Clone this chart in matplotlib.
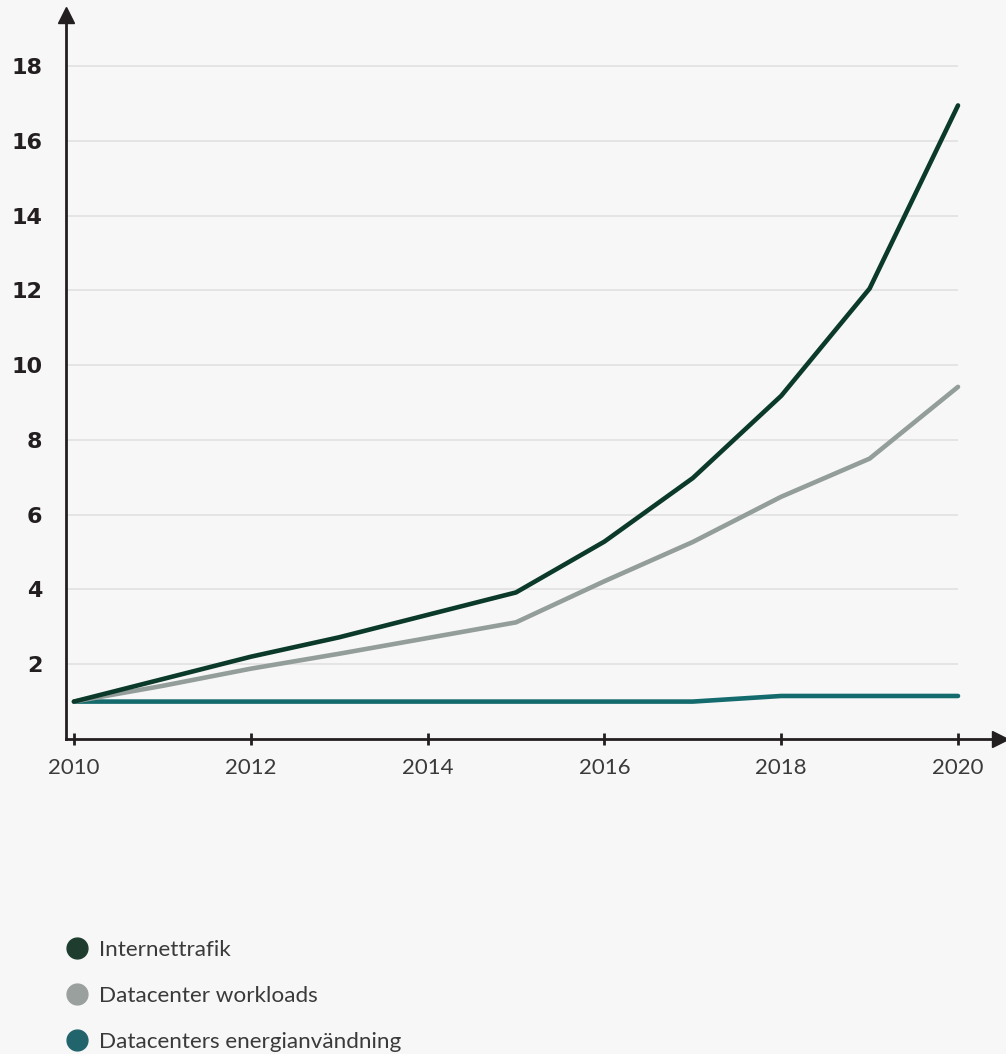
import matplotlib.pyplot as plt
from matplotlib.lines import Line2D

years = [2010, 2011, 2012, 2013, 2014, 2015, 2016, 2017, 2018, 2019, 2020]
internet = [1.0, 1.6, 2.2, 2.72, 3.32, 3.92, 5.28, 6.98, 9.18, 12.05, 16.95]
workloads = [1.0, 1.42, 1.88, 2.28, 2.7, 3.12, 4.22, 5.27, 6.48, 7.5, 9.42]
energy = [1.0, 1.0, 1.0, 1.0, 1.0, 1.0, 1.0, 1.0, 1.15, 1.15, 1.15]

series_names = ['Internettrafik', 'Datacenter workloads', 'Datacenters energianvändning']
line_colors = ['#0b3a2a', '#939d99', '#146b6e']
dot_colors = ['#1e3d2e', '#9aa09d', '#22646c']

x_ticks = [2010, 2012, 2014, 2016, 2018, 2020]
y_ticks = [2, 4, 6, 8, 10, 12, 14, 16, 18]

bg = '#f7f7f7'
axis_col = '#231f20'

fig = plt.figure(figsize=(10.06, 10.54), dpi=100, facecolor=bg)
ax = fig.add_axes([0.0656, 0.2989, 0.928, 0.6869], facecolor=bg)

x0, x1 = 2009.91, 2020.47
ax.set_xlim(x0, x1)
ax.set_ylim(0, 19.37)

ax.hlines(y_ticks, x0, 2020, colors='#e2e2e2', linewidth=1.3, zorder=1)

for vals, c in zip([energy, workloads, internet], [line_colors[2], line_colors[1], line_colors[0]]):
    ax.plot(years, vals, color=c, linewidth=3.3, zorder=3, solid_capstyle='round')

for s in ['top', 'right']:
    ax.spines[s].set_visible(False)
for s in ['left', 'bottom']:
    ax.spines[s].set_color(axis_col)
    ax.spines[s].set_linewidth(2)

# arrow heads
ax.plot(0, 1, marker='^', color=axis_col, markersize=11, transform=ax.transAxes, clip_on=False)
ax.plot(1, 0, marker='>', color=axis_col, markersize=11, transform=ax.transAxes, clip_on=False)

ax.set_xticks(x_ticks)
ax.set_xticklabels([str(t) for t in x_ticks], fontfamily='Lato', fontweight='normal',
                   fontsize=16, color='#3a3a3a')
ax.tick_params(axis='x', direction='inout', length=8, width=2, color=axis_col, pad=10)

ax.set_yticks(y_ticks)
ax.set_yticklabels([str(t) for t in y_ticks], fontfamily='DejaVu Sans', fontweight='bold',
                   fontsize=16, color=axis_col)
ax.tick_params(axis='y', length=0, pad=17)

handles = [Line2D([], [], linestyle='none', marker='o', markersize=15, color=c) for c in dot_colors]
fig.legend(handles, series_names, loc='upper left', bbox_to_anchor=(0.0538, 0.1185),
           frameon=False, borderpad=0, handlelength=1.0, handletextpad=0.5, labelspacing=1.15,
           prop={'family': 'Lato', 'weight': 'normal', 'size': 16.2}, labelcolor='#3a3a3a')

fig.savefig('out.png', dpi=100, facecolor=bg)
